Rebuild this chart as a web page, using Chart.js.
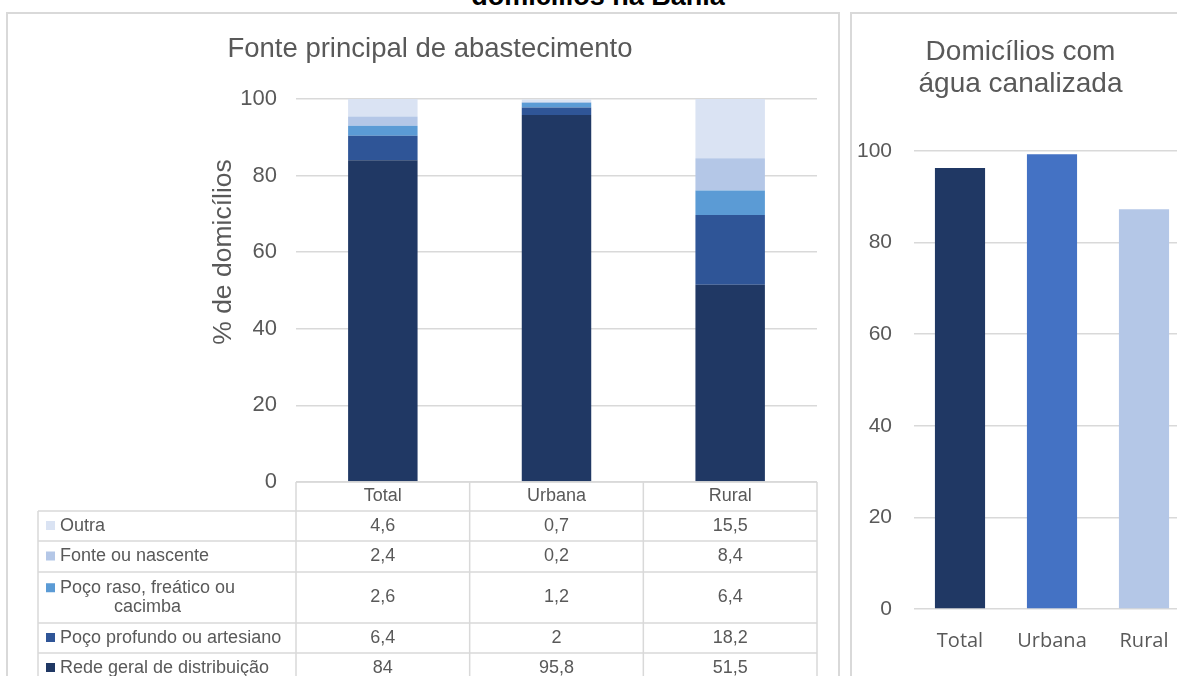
<!DOCTYPE html>
<html>
<head>
    <title>Abastecimento de água nos domicílios na Bahia</title>
    <script src="https://cdn.jsdelivr.net/npm/chart.js"></script>
    <style>
        body { margin: 0; width: 1177px; height: 676px; overflow: hidden; background: #fff; position: relative; font-family: "Liberation Sans", Arial, sans-serif; }
        .panel { position: absolute; border: 2px solid #d9d9d9; }
        #leftPanel { left: 6px; top: 12px; width: 830px; height: 700px; }
        #rightPanel { left: 850px; top: 12px; width: 400px; height: 700px; }
        #mainTitle { position: absolute; left: 598px; top: -17px; transform: translateX(-50%); font-weight: bold; font-size: 27px; line-height: 27px; white-space: nowrap; color: #000; }
        #sourceChart { position: absolute; left: 0; top: 0; }
        #pipedChart { position: absolute; left: 851px; top: 0; }
    </style>
</head>
<body>
    <div class="panel" id="leftPanel"></div>
    <div class="panel" id="rightPanel"></div>
    <div id="mainTitle">domicílios na Bahia</div>
    <canvas id="sourceChart" width="845" height="676"></canvas>
    <canvas id="pipedChart" width="339" height="676"></canvas>

    <script>
        // categories
        const areas = ["Total", "Urbana", "Rural"];
        const sourceNames = ["Rede geral de distribuição", "Poço profundo ou artesiano", "Poço raso, freático ou cacimba", "Fonte ou nascente", "Outra"];

        // % de domicílios por fonte principal (stack order bottom -> top)
        const redeGeral = [84, 95.8, 51.5];
        const pocoProfundo = [6.4, 2, 18.2];
        const pocoRaso = [2.6, 1.2, 6.4];
        const fonteNascente = [2.4, 0.2, 8.4];
        const outra = [4.6, 0.7, 15.5];

        // domicílios com água canalizada (%)
        const canalizada = [96.3, 99.3, 87.3];

        const yTicks = [0, 20, 40, 60, 80, 100];

        const sourceColors = ["#203864", "#2f5597", "#5b9bd5", "#b4c7e7", "#dae3f3"];
        const pipedColors = ["#203864", "#4472c4", "#b4c7e7"];
        const textGray = "#595959";
        const gridGray = "#d9d9d9";
        const arial = '"Liberation Sans", Arial, sans-serif';

        const fmt = v => String(v).replace(".", ",");

        // y axis title, Excel puts it a bit above the plot middle
        const yAxisTitle = {
            id: "yAxisTitle",
            afterDraw(chart) {
                const { ctx } = chart;
                ctx.save();
                ctx.translate(224, 252);
                ctx.rotate(-Math.PI / 2);
                ctx.font = "26.5px " + arial;
                ctx.fillStyle = textGray;
                ctx.textAlign = "center";
                ctx.textBaseline = "middle";
                ctx.fillText("% de domicílios", 0, 0);
                ctx.restore();
            }
        };

        // draws the data table under the stacked bars, columns taken from the x scale
        const dataTable = {
            id: "dataTable",
            afterDraw(chart) {
                const { ctx, chartArea, scales: { x } } = chart;
                const n = areas.length;
                const edges = [chartArea.left];
                for (let i = 0; i < n - 1; i++) {
                    edges.push((x.getPixelForValue(i) + x.getPixelForValue(i + 1)) / 2);
                }
                edges.push(chartArea.right);

                const legendLeft = 38;
                const top = chartArea.bottom;
                const headerBottom = top + 29;
                const rowHeights = [30, 31, 51, 30, 30];
                const rows = chart.data.datasets.slice().reverse();

                ctx.save();
                ctx.strokeStyle = gridGray;
                ctx.lineWidth = 1.5;
                ctx.beginPath();
                ctx.moveTo(edges[0], top); ctx.lineTo(edges[n], top);
                let y = headerBottom;
                const lines = [y];
                rowHeights.forEach(h => { y += h; lines.push(y); });
                lines.forEach(ly => { ctx.moveTo(legendLeft, ly); ctx.lineTo(edges[n], ly); });
                edges.forEach(ex => { ctx.moveTo(ex, top); ctx.lineTo(ex, 700); });
                ctx.moveTo(legendLeft, headerBottom); ctx.lineTo(legendLeft, 700);
                ctx.stroke();

                ctx.font = "18px " + arial;
                ctx.fillStyle = textGray;
                ctx.textBaseline = "middle";
                const lineH = 18.5;
                rows.forEach((ds, r) => {
                    const mid = lines[r] + rowHeights[r] / 2;
                    // wrap legend text
                    const words = ds.label.split(" ");
                    const textLines = [];
                    let cur = "";
                    words.forEach(w => {
                        const test = cur ? cur + " " + w : w;
                        if (ctx.measureText(test).width > 228 && cur) { textLines.push(cur); cur = w; }
                        else cur = test;
                    });
                    textLines.push(cur);
                    const maxW = Math.max(...textLines.map(t => ctx.measureText(t).width));
                    const firstY = mid - (textLines.length - 1) * lineH / 2;
                    ctx.fillStyle = ds.backgroundColor;
                    ctx.fillRect(46, firstY - 5, 9, 9);
                    ctx.fillStyle = textGray;
                    ctx.textAlign = "center";
                    textLines.forEach((t, k) => ctx.fillText(t, 60 + maxW / 2, firstY + k * lineH));
                    ds.data.forEach((v, i) => {
                        ctx.fillText(fmt(v), (edges[i] + edges[i + 1]) / 2, mid);
                    });
                });
                ctx.restore();
            }
        };

        const sourceSeries = [redeGeral, pocoProfundo, pocoRaso, fonteNascente, outra];

        new Chart(document.getElementById("sourceChart"), {
            type: "bar",
            data: {
                labels: areas,
                datasets: sourceSeries.map((values, i) => ({
                    label: sourceNames[i],
                    data: values,
                    backgroundColor: sourceColors[i],
                    barPercentage: 0.4,
                    categoryPercentage: 1
                }))
            },
            options: {
                responsive: false,
                animation: false,
                devicePixelRatio: 1,
                layout: { padding: { left: 43, right: 28, top: 0, bottom: 0 } },
                plugins: {
                    legend: { display: false },
                    tooltip: { enabled: false },
                    title: {
                        display: true,
                        text: "Fonte principal de abastecimento",
                        color: textGray,
                        font: { family: arial, size: 27.5, weight: "normal", lineHeight: 1.2 },
                        padding: { top: 32.5, bottom: 33.5 }
                    }
                },
                scales: {
                    x: {
                        stacked: true,
                        grid: { display: false },
                        border: { display: false },
                        ticks: { color: textGray, font: { family: arial, size: 18 }, padding: -5, maxRotation: 0 },
                        afterFit(s) { s.height = 194; }
                    },
                    y: {
                        stacked: true,
                        min: 0,
                        max: 100,
                        afterBuildTicks(s) { s.ticks = yTicks.map(v => ({ value: v })); },
                        ticks: { color: textGray, font: { family: arial, size: 22 }, padding: 19 },
                        grid: { color: gridGray, lineWidth: 1.5, drawTicks: false },
                        border: { display: false },
                        afterFit(s) { s.width = 253; }
                    }
                }
            },
            plugins: [dataTable, yAxisTitle]
        });

        new Chart(document.getElementById("pipedChart"), {
            type: "bar",
            data: {
                labels: areas,
                datasets: [{
                    label: "Domicílios com água canalizada",
                    data: canalizada,
                    backgroundColor: pipedColors,
                    barPercentage: 0.545,
                    categoryPercentage: 1
                }]
            },
            options: {
                responsive: false,
                animation: false,
                devicePixelRatio: 1,
                layout: { padding: 0 },
                plugins: {
                    legend: { display: false },
                    tooltip: { enabled: false },
                    title: {
                        display: true,
                        text: ["Domicílios com", "água canalizada"],
                        color: textGray,
                        font: { family: arial, size: 28, weight: "normal", lineHeight: 1.15 },
                        padding: { top: 36, bottom: 50.6 }
                    }
                },
                scales: {
                    x: {
                        grid: { display: false },
                        border: { display: false },
                        ticks: { color: textGray, font: { family: '"Open Sans", sans-serif', size: 20 }, padding: 12, maxRotation: 0 },
                        afterFit(s) { s.height = 67; }
                    },
                    y: {
                        min: 0,
                        max: 100,
                        afterBuildTicks(s) { s.ticks = yTicks.map(v => ({ value: v })); },
                        ticks: { color: textGray, font: { family: arial, size: 21 }, padding: 22 },
                        grid: { color: gridGray, lineWidth: 1.5, drawTicks: false },
                        border: { display: false },
                        afterFit(s) { s.width = 63; }
                    }
                }
            }
        });
    </script>
</body>
</html>
